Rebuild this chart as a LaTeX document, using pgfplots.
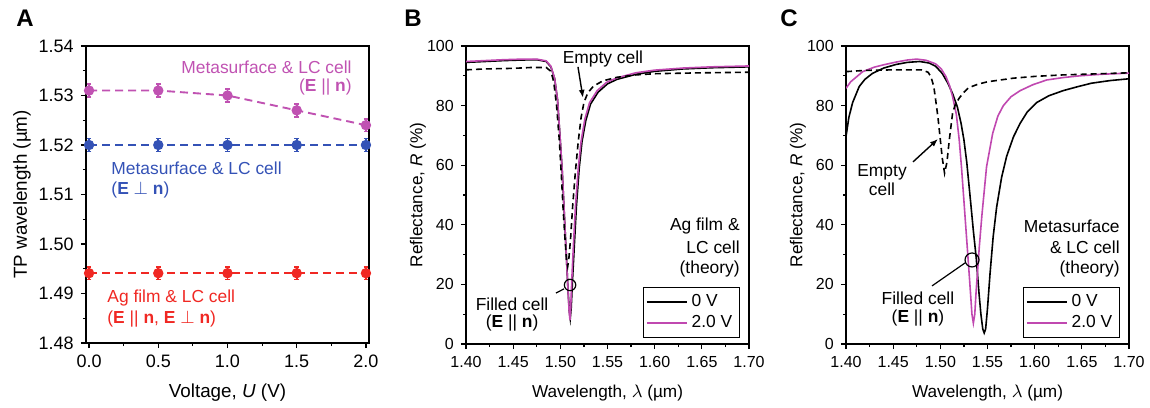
\documentclass[border=0pt]{standalone}
\usepackage{fontspec}
\setmainfont{Liberation Sans}
\usepackage{pgfplots}
\pgfplotsset{compat=1.18}
\usetikzlibrary{arrows.meta}

\definecolor{magA}{RGB}{192,82,178}
\definecolor{bluA}{RGB}{52,82,182}
\definecolor{redA}{RGB}{240,40,35}
\definecolor{magC}{RGB}{192,72,176}

\tikzset{note/.style={font=\fontsize{8.7}{10}\selectfont, inner sep=0pt}}

\pgfplotsset{
  panel/.style={
    scale only axis,
    clip mode=individual,
    axis line style={line width=0.8pt},
    tick style={black, line width=0.6pt},
    major tick length=2.6pt,
    minor tick length=1.5pt,
    tick align=outside,
    xtick pos=lower, ytick pos=left,
    minor x tick num=1, minor y tick num=1,
    /pgf/number format/assume math mode=true,
  },
  tp/.style={
    line width=0.95pt, dash pattern=on 4pt off 2.5pt,
    mark=*, mark size=2.1pt, mark options={solid},
    error bars/.cd, y dir=both, y fixed=0.0013,
    error bar style={line width=0.8pt, solid},
    error mark options={rotate=90, mark size=1.2pt, line width=0.8pt},
  },
  spec/.style={
    panel,
    width=141.5pt, height=149pt,
    xmin=1.40, xmax=1.70, ymin=0, ymax=100,
    xtick={1.40,1.45,...,1.70},
    ytick={0,20,...,100},
    ticklabel style={font=\fontsize{8}{9}\selectfont},
    xticklabel style={/pgf/number format/.cd, fixed, fixed zerofill, precision=2},
    label style={font=\fontsize{8.6}{10}\selectfont},
    xlabel={Wavelength, $\lambda$ (µm)},
    ylabel={Reflectance, \textit{R} (\%)},
    xlabel style={at={(axis description cs:0.5,-0.164)}, anchor=center},
    ylabel style={at={(axis description cs:-0.170,0.5)}, anchor=center},
    legend style={at={(0.968,0.02)}, anchor=south east, draw=black, line width=0.6pt,
      font=\fontsize{8.7}{10}\selectfont, inner sep=1.5pt, row sep=-1pt,
      legend cell align=left},
    legend image code/.code={\draw[#1] (0pt,0pt) -- (20pt,0pt);},
  },
}

\begin{document}
\begin{tikzpicture}
\useasboundingbox (0,0) rectangle (575pt,203.5pt);

\node[font=\bfseries\fontsize{12}{12}\selectfont] at (12.5pt,194.5pt) {A};
\node[font=\bfseries\fontsize{12}{12}\selectfont] at (206.5pt,194.5pt) {B};
\node[font=\bfseries\fontsize{12}{12}\selectfont] at (394.5pt,194.5pt) {C};

% ---------- A ----------
\begin{axis}[
  panel,
  at={(43pt,32pt)}, anchor=south west,
  width=141.5pt, height=148.5pt,
  xmin=-0.022, xmax=2.022, ymin=1.48, ymax=1.54,
  xtick={0,0.5,...,2}, ytick={1.48,1.49,...,1.54},
  ticklabel style={font=\fontsize{9}{10}\selectfont},
  xticklabel style={/pgf/number format/.cd, fixed, fixed zerofill, precision=1},
  yticklabel style={/pgf/number format/.cd, fixed, fixed zerofill, precision=2},
  label style={font=\fontsize{9.4}{11}\selectfont},
  xlabel={Voltage, \textit{U} (V)},
  ylabel={TP wavelength (µm)},
  xlabel style={at={(axis description cs:0.5,-0.168)}, anchor=center},
  ylabel style={at={(axis description cs:-0.226,0.5)}, anchor=center},
]
\addplot[magA, tp] coordinates {(0,1.531) (0.5,1.531) (1.0,1.530) (1.5,1.527) (2.0,1.524)};
\addplot[bluA, tp] coordinates {(0,1.520) (0.5,1.520) (1.0,1.520) (1.5,1.520) (2.0,1.520)};
\addplot[redA, tp] coordinates {(0,1.4941) (0.5,1.4941) (1.0,1.4941) (1.5,1.4941) (2.0,1.4941)};

\node[note, text=magA, anchor=east] at (axis cs:1.899,1.5358) {Metasurface \& LC cell};
\node[note, text=magA, anchor=east] at (axis cs:1.899,1.5317) {(\textbf{E} || \textbf{n})};
\node[note, text=bluA, anchor=west] at (axis cs:0.159,1.5152) {Metasurface \& LC cell};
\node[note, text=bluA, anchor=west] at (axis cs:0.159,1.5109) {(\textbf{E} $\perp$ \textbf{n})};
\node[note, text=redA, anchor=west] at (axis cs:0.130,1.4891) {Ag film \& LC cell};
\node[note, text=redA, anchor=west] at (axis cs:0.130,1.4848) {(\textbf{E} || \textbf{n}, \textbf{E} $\perp$ \textbf{n})};
\end{axis}

% ---------- B ----------
\begin{axis}[spec, at={(233pt,31.5pt)}, anchor=south west]
\addplot[black, line width=0.8pt] coordinates {
  (1.400,94.5) (1.420,94.8) (1.440,95.1) (1.460,95.3) (1.475,95.4) (1.485,94.8)
  (1.490,93.0) (1.494,89.0) (1.497,82.0) (1.500,68.0) (1.502,58.0) (1.504,45.0)
  (1.506,32.0) (1.508,19.0) (1.5095,11.0) (1.5105,8.5) (1.5115,12.0) (1.513,22.0)
  (1.515,34.0) (1.517,46.0) (1.520,59.0) (1.523,68.0) (1.527,75.0) (1.532,80.5)
  (1.540,84.5) (1.550,87.3) (1.560,88.8) (1.580,90.5) (1.600,91.5) (1.630,92.3)
  (1.660,92.7) (1.700,93.0)};
\addplot[magC, line width=0.8pt] coordinates {
  (1.400,94.8) (1.420,95.1) (1.440,95.4) (1.460,95.6) (1.475,95.6) (1.485,95.0)
  (1.490,93.2) (1.494,89.0) (1.497,82.0) (1.500,68.0) (1.502,58.0) (1.504,45.0)
  (1.506,32.0) (1.508,19.0) (1.5093,11.0) (1.5102,8.0) (1.511,12.0) (1.5122,22.0)
  (1.514,34.0) (1.516,46.0) (1.519,59.0) (1.522,68.0) (1.526,75.5) (1.531,81.0)
  (1.539,85.0) (1.549,87.8) (1.560,89.3) (1.580,91.0) (1.600,91.9) (1.630,92.6)
  (1.660,93.0) (1.700,93.3)};
\addplot[black, line width=0.8pt, dash pattern=on 3pt off 2pt, forget plot] coordinates {
  (1.400,92.0) (1.420,92.3) (1.450,92.5) (1.470,92.8) (1.485,92.8) (1.490,91.5)
  (1.493,88.0) (1.496,80.0) (1.499,68.0) (1.501,57.0) (1.503,45.0) (1.505,35.0)
  (1.5065,28.5) (1.5078,26.0) (1.509,28.5) (1.511,36.0) (1.513,46.0) (1.516,58.0)
  (1.519,68.0) (1.522,76.0) (1.525,81.0) (1.529,84.2) (1.535,86.5) (1.545,88.3)
  (1.560,89.5) (1.580,90.3) (1.600,90.7) (1.650,91.0) (1.700,91.2)};
\legend{0 V, 2.0 V}

\node[note, anchor=center] at (axis cs:1.5452,95.6) {Empty cell};
\draw[-{Latex[length=4pt,width=3pt]}, line width=0.7pt] (axis cs:1.5187,93.0) -- (axis cs:1.5240,82.6);
\draw[line width=0.6pt] (axis cs:1.5103,19.8) circle[radius=2.85pt];
\draw[line width=0.6pt] (axis cs:1.5039,18.5) -- (axis cs:1.4954,17.1);
\node[note, anchor=center] at (axis cs:1.4488,13.4) {Filled cell};
\node[note, anchor=center] at (axis cs:1.4488,7.0) {(\textbf{E} || \textbf{n})};
\node[note, anchor=east] at (axis cs:1.6905,39.6) {Ag film \&};
\node[note, anchor=east] at (axis cs:1.6905,32.6) {LC cell};
\node[note, anchor=east] at (axis cs:1.6905,25.2) {(theory)};
\end{axis}

% ---------- C ----------
\begin{axis}[spec, at={(423pt,31.5pt)}, anchor=south west]
\addplot[black, line width=0.8pt] coordinates {
  (1.400,69.6) (1.403,76.0) (1.407,81.0) (1.414,86.4) (1.420,88.8) (1.428,90.8)
  (1.440,92.6) (1.453,93.8) (1.465,94.5) (1.478,94.8) (1.488,94.3) (1.495,93.2)
  (1.502,90.8) (1.508,87.5) (1.513,84.0) (1.518,79.6) (1.522,74.0) (1.525,68.5)
  (1.528,61.0) (1.532,48.0) (1.535,38.0) (1.538,29.0) (1.541,17.0) (1.543,10.0)
  (1.545,5.0) (1.5465,3.7) (1.548,5.0) (1.550,12.0) (1.5527,23.7) (1.556,36.0)
  (1.5597,46.0) (1.565,56.0) (1.5703,63.0) (1.5775,69.5) (1.5845,74.0) (1.592,77.8)
  (1.602,81.0) (1.615,83.3) (1.630,85.0) (1.645,86.3) (1.660,87.5) (1.680,88.4)
  (1.700,89.0)};
\addplot[magC, line width=0.8pt] coordinates {
  (1.400,85.8) (1.405,88.0) (1.4177,91.4) (1.430,92.9) (1.440,93.7) (1.453,94.6)
  (1.465,95.3) (1.475,95.6) (1.485,95.2) (1.495,94.0) (1.501,92.3) (1.506,89.7)
  (1.510,86.5) (1.513,83.0) (1.517,77.0) (1.520,68.5) (1.5225,59.0) (1.525,48.0)
  (1.5275,37.0) (1.530,26.0) (1.532,17.0) (1.5335,10.0) (1.535,7.0) (1.5365,10.0)
  (1.538,18.0) (1.5413,32.6) (1.544,43.0) (1.549,59.5) (1.5555,70.7) (1.5610,76.5)
  (1.5668,80.0) (1.5750,83.0) (1.5845,85.0) (1.598,87.0) (1.6128,88.6) (1.630,89.4)
  (1.648,90.0) (1.670,90.5) (1.700,90.9)};
\addplot[black, line width=0.8pt, dash pattern=on 3pt off 2pt, forget plot] coordinates {
  (1.400,91.4) (1.420,91.8) (1.450,92.0) (1.480,92.0) (1.487,91.2) (1.490,89.7)
  (1.493,86.5) (1.495,82.0) (1.4975,76.0) (1.500,68.5) (1.502,62.5) (1.5045,57.3)
  (1.507,61.0) (1.5095,68.5) (1.513,77.5) (1.516,80.5) (1.520,82.5) (1.525,84.5)
  (1.530,86.0) (1.540,87.2) (1.550,88.0) (1.5774,89.2) (1.600,89.8) (1.630,90.3)
  (1.660,90.6) (1.700,91.0)};
\legend{0 V, 2.0 V}

\node[note, anchor=center] at (axis cs:1.4382,57.7) {Empty};
\node[note, anchor=center] at (axis cs:1.4382,52.0) {cell};
\draw[-{Latex[length=4pt,width=3pt]}, line width=0.7pt] (axis cs:1.4710,61.1) -- (axis cs:1.4975,68.8);
\draw[line width=0.6pt] (axis cs:1.5336,28.2) circle[radius=3.5pt];
\draw[line width=0.6pt] (axis cs:1.5262,27.2) -- (axis cs:1.4912,19.5);
\node[note, anchor=center] at (axis cs:1.4763,15.4) {Filled cell};
\node[note, anchor=center] at (axis cs:1.4763,8.7) {(\textbf{E} || \textbf{n})};
\node[note, anchor=east] at (axis cs:1.6905,39.6) {Metasurface};
\node[note, anchor=east] at (axis cs:1.6905,32.6) {\& LC cell};
\node[note, anchor=east] at (axis cs:1.6905,25.2) {(theory)};
\end{axis}
\end{tikzpicture}
\end{document}
